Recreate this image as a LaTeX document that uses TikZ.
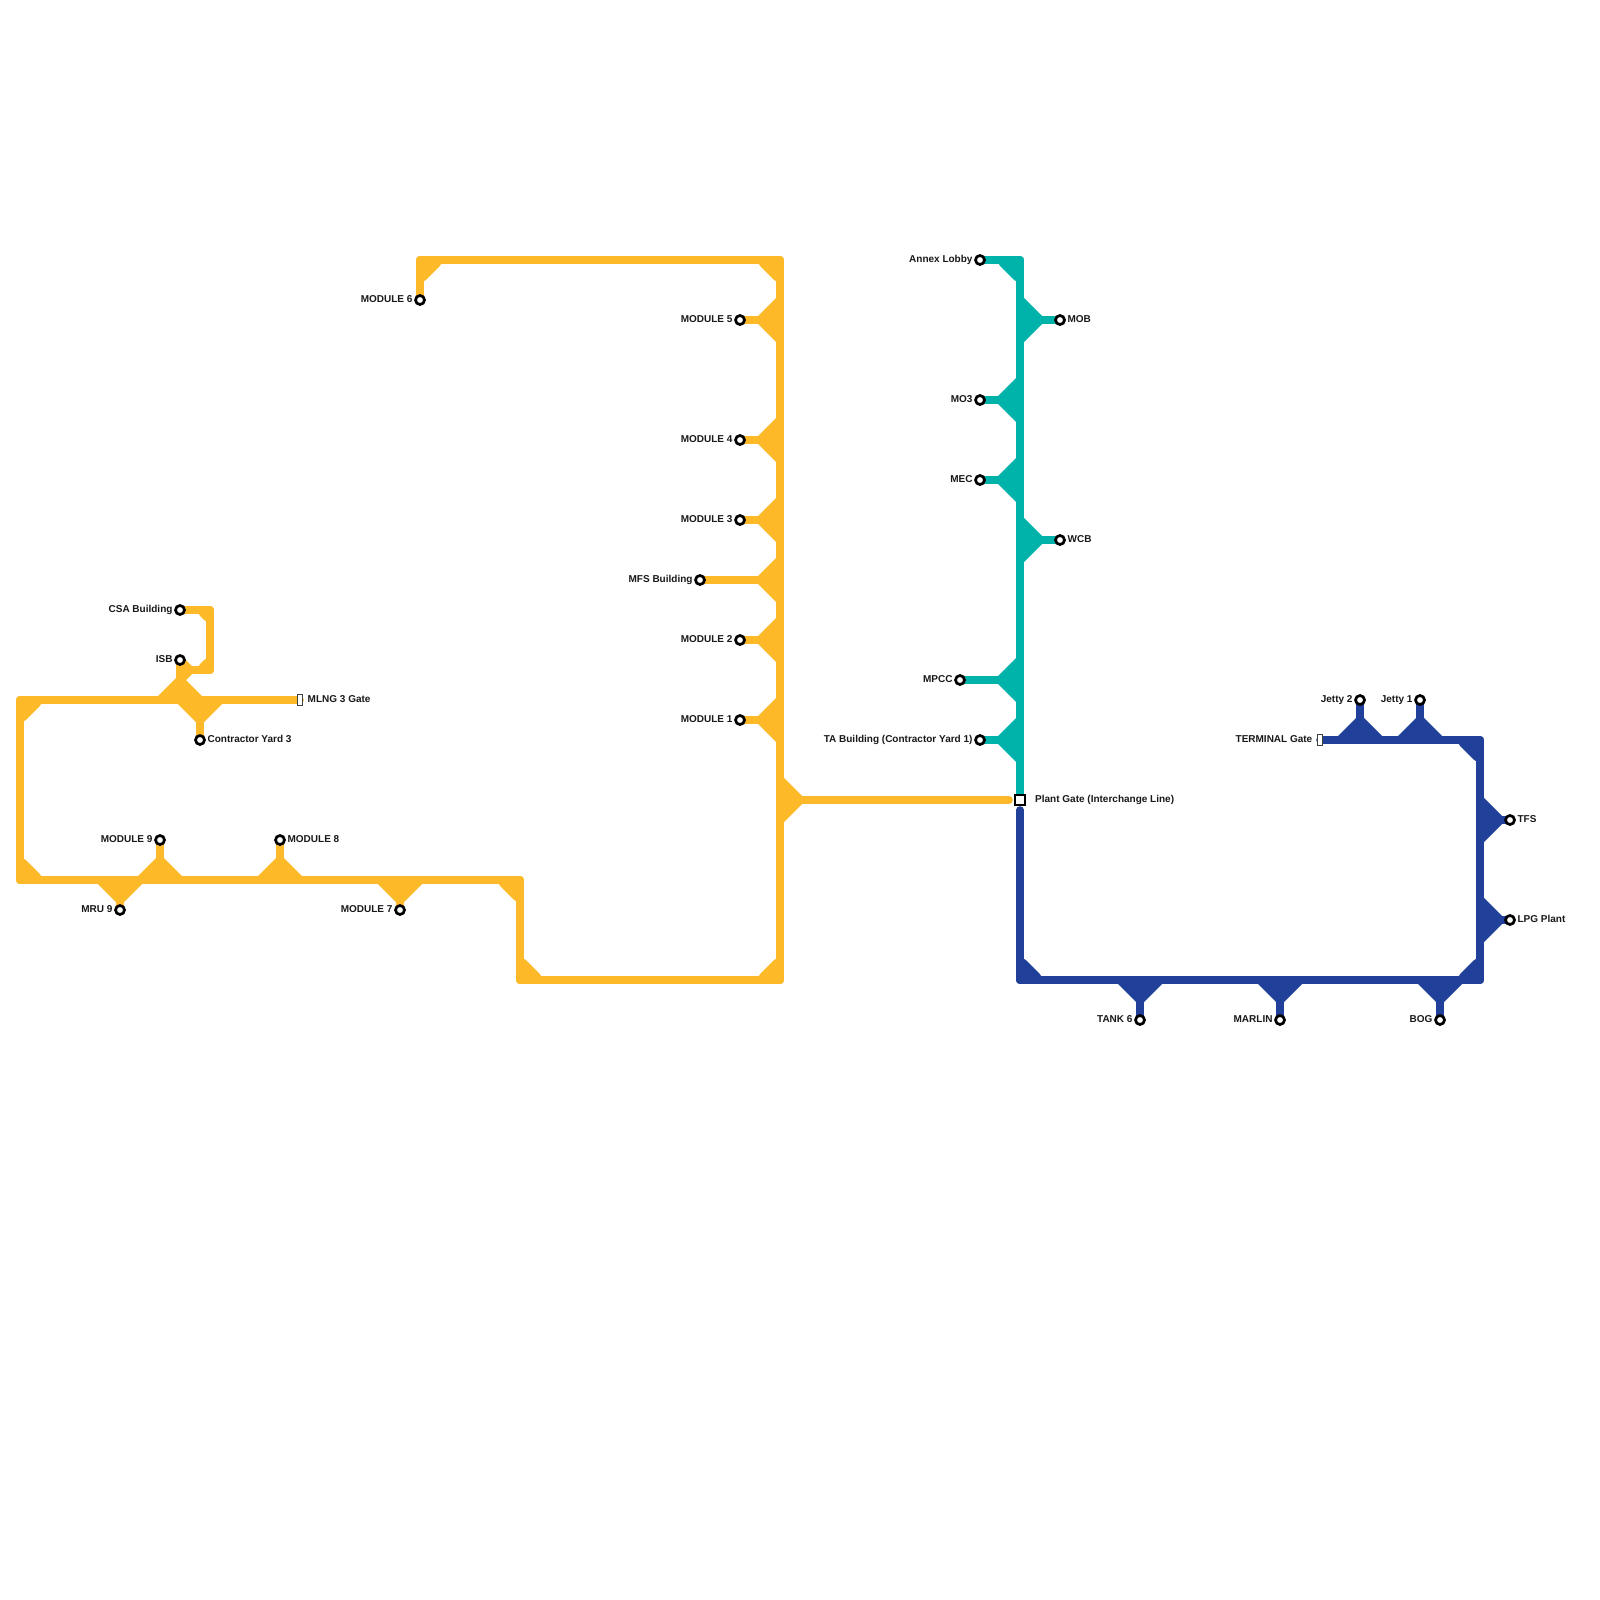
\documentclass[tikz,border=0pt]{standalone}
\usepackage{fontspec}
\setmainfont{Liberation Sans}
\usetikzlibrary{backgrounds}
\definecolor{lineorange}{HTML}{FDB927}
\definecolor{lineteal}{HTML}{00B3AA}
\definecolor{lineblue}{HTML}{20409A}
\tikzset{
  stn/.style={circle,draw=black,fill=white,line width=2.7pt,minimum size=9pt,inner sep=0pt,outer sep=0pt},
  gatesmall/.style={rectangle,draw=black!75,fill=white,line width=1pt,minimum width=5pt,minimum height=10.6pt,inner sep=0pt,outer sep=0pt},
  gatebig/.style={rectangle,draw=black,fill=white,line width=2pt,minimum size=10pt,inner sep=0pt,outer sep=0pt},
  lbl/.style={inner sep=0pt,font=\fontsize{10}{12}\selectfont\bfseries,text=black!90},
  lbll/.style={lbl,anchor=base east},
  lblr/.style={lbl,anchor=base west},
  route/.style={line width=7.6pt,line cap=round,line join=round},
}
% station with its text on the left / right
\newcommand\stnL[4]{\node[stn] (#1) at (#2,#3) {}; \node[lbll] (#1t) at (#2-7.3,#3+2.7) {#4};}
\newcommand\stnR[4]{\node[stn] (#1) at (#2,#3) {}; \node[lblr] (#1t) at (#2+7.4,#3+2.7) {#4};}
% triangular junction: base centre, direction towards the apex
\newcommand\jfan[4]{\fill ({#1+(#4)*22},{#2+(#3)*22}) -- ({#1+(#3)*22},{#2+(#4)*22}) -- ({#1-(#4)*22},{#2-(#3)*22}) -- cycle;}
% corner fillet: corner point, direction towards the inside, reach
\newcommand\jcorner[5]{\fill[rounded corners=3pt] ({#1-(#3)*3.8},{#2-(#4)*3.8}) -- ({#1+(#3)*#5},{#2-(#4)*3.8}) -- ({#1+(#3)*#5},{#2+(#4)*3.8}) -- ({#1+(#3)*3.8},{#2+(#4)*#5}) -- ({#1-(#3)*3.8},{#2+(#4)*#5}) -- cycle;}
\begin{document}
\begin{tikzpicture}[x=1pt,y=-1pt]
\useasboundingbox (0,0) rectangle (1600,1600);

% stations, orange
\stnL{csa}{180}{610}{CSA Building}
\stnL{isb}{180}{660}{ISB}
\stnR{cy}{200}{740}{Contractor Yard 3}
\stnL{mnine}{160}{840}{MODULE 9}
\stnR{meight}{280}{840}{MODULE 8}
\stnL{mru}{120}{910}{MRU 9}
\stnL{mseven}{400}{910}{MODULE 7}
\stnL{msix}{420}{300}{MODULE 6}
\stnL{mfive}{740}{320}{MODULE 5}
\stnL{mfour}{740}{440}{MODULE 4}
\stnL{mthree}{740}{520}{MODULE 3}
\stnL{mfs}{700}{580}{MFS Building}
\stnL{mtwo}{740}{640}{MODULE 2}
\stnL{mone}{740}{720}{MODULE 1}
% stations, teal
\stnL{annex}{980}{260}{Annex Lobby}
\stnR{mob}{1060}{320}{MOB}
\stnL{mothree}{980}{400}{MO3}
\stnL{mec}{980}{480}{MEC}
\stnR{wcb}{1060}{540}{WCB}
\stnL{mpcc}{960}{680}{MPCC}
\stnL{ta}{980}{740}{TA Building (Contractor Yard 1)}
% stations, blue
\stnL{tank}{1140}{1020}{TANK 6}
\stnL{marlin}{1280}{1020}{MARLIN}
\stnL{bog}{1440}{1020}{BOG}
\stnL{jtwo}{1360}{700}{Jetty 2}
\stnL{jone}{1420}{700}{Jetty 1}
\stnR{tfs}{1510}{820}{TFS}
\stnR{lpg}{1510}{920}{LPG Plant}
% gates
\node[gatesmall] (mlng) at (300,700) {};
\node[lblr] (mlngt) at (307.5,702.7) {MLNG 3 Gate};
\node[gatebig] (plant) at (1020,800) {};
\node[lblr] (plantt) at (1035,802.7) {Plant Gate (Interchange Line)};
\node[gatesmall] (term) at (1320,740) {};
\node[lbll] (termt) at (1312.5,742.7) {TERMINAL Gate};

% route corners
\coordinate (oa) at (20,700);
\coordinate (ob) at (20,880);
\coordinate (oc) at (520,880);
\coordinate (od) at (520,980);
\coordinate (oe) at (780,980);
\coordinate (of) at (780,260);
\coordinate (og) at (420,260);
\coordinate (oh) at (210,610);
\coordinate (oi) at (210,670);
\coordinate (oj) at (180,670);
\coordinate (ospine) at (780,800);
\coordinate (oend) at (1009,800);
\coordinate (ta1) at (1020,260);
\coordinate (ba) at (1020,810);
\coordinate (bb) at (1020,980);
\coordinate (bc) at (1480,980);
\coordinate (bd) at (1480,740);

\begin{scope}[on background layer]
\fill[white] (0,0) rectangle (1600,1600);
% orange line
\begin{scope}[fill=lineorange,draw=lineorange]
\draw[route] (mlng.center) -- (oa) -- (ob) -- (oc) -- (od) -- (oe) -- (of) -- (og) -- (msix.center);
\draw[route] (csa.center) -- (oh) -- (oi) -- (oj);
\draw[route] (isb.center) -- (isb.center |- oa);
\draw[route] (cy.center) -- (cy.center |- oa);
\draw[route] (mnine.center) -- (mnine.center |- ob);
\draw[route] (meight.center) -- (meight.center |- ob);
\draw[route] (mru.center) -- (mru.center |- ob);
\draw[route] (mseven.center) -- (mseven.center |- ob);
\foreach \s in {mfive,mfour,mthree,mfs,mtwo,mone} \draw[route] (\s.center) -- (\s.center -| of);
\draw[route] (ospine) -- (oend);
\jcorner{20}{700}{1}{1}{22}
\jcorner{20}{880}{1}{-1}{22}
\jcorner{520}{880}{-1}{1}{22}
\jcorner{520}{980}{1}{-1}{22}
\jcorner{780}{980}{-1}{-1}{22}
\jcorner{780}{260}{-1}{1}{22}
\jcorner{420}{260}{1}{1}{22}
\jcorner{210}{610}{-1}{1}{12}
\jcorner{210}{670}{-1}{-1}{12}
\fill (184,658) -- (192,666) -- (192,674) -- (184,682) -- (176,682) -- (176,658) -- cycle;
\jfan{180}{696}{0}{-1}
\jfan{200}{704}{0}{1}
\jfan{160}{876}{0}{-1}
\jfan{280}{876}{0}{-1}
\jfan{120}{884}{0}{1}
\jfan{400}{884}{0}{1}
\jfan{776}{320}{-1}{0}
\jfan{776}{440}{-1}{0}
\jfan{776}{520}{-1}{0}
\jfan{776}{580}{-1}{0}
\jfan{776}{640}{-1}{0}
\jfan{776}{720}{-1}{0}
\jfan{784}{800}{1}{0}
\end{scope}
% teal line
\begin{scope}[fill=lineteal,draw=lineteal]
\draw[route] (annex.center) -- (ta1) -- (plant.center);
\foreach \s in {mob,mothree,mec,wcb,mpcc,ta} \draw[route] (\s.center) -- (\s.center -| ta1);
\jcorner{1020}{260}{-1}{1}{22}
\jfan{1024}{320}{1}{0}
\jfan{1016}{400}{-1}{0}
\jfan{1016}{480}{-1}{0}
\jfan{1024}{540}{1}{0}
\jfan{1016}{680}{-1}{0}
\jfan{1016}{740}{-1}{0}
\end{scope}
% blue line
\begin{scope}[fill=lineblue,draw=lineblue]
\draw[route] (ba) -- (bb) -- (bc) -- (bd) -- (term.center);
\foreach \s in {tank,marlin,bog} \draw[route] (\s.center) -- (\s.center |- bb);
\foreach \s in {jtwo,jone} \draw[route] (\s.center) -- (\s.center |- bd);
\foreach \s in {tfs,lpg} \draw[route] (\s.center) -- (\s.center -| bd);
\jcorner{1020}{980}{1}{-1}{22}
\jcorner{1480}{980}{-1}{-1}{22}
\jcorner{1480}{740}{-1}{1}{22}
\jfan{1140}{984}{0}{1}
\jfan{1280}{984}{0}{1}
\jfan{1440}{984}{0}{1}
\jfan{1360}{736}{0}{-1}
\jfan{1420}{736}{0}{-1}
\jfan{1484}{820}{1}{0}
\jfan{1484}{920}{1}{0}
\end{scope}
\end{scope}
\end{tikzpicture}
\end{document}
